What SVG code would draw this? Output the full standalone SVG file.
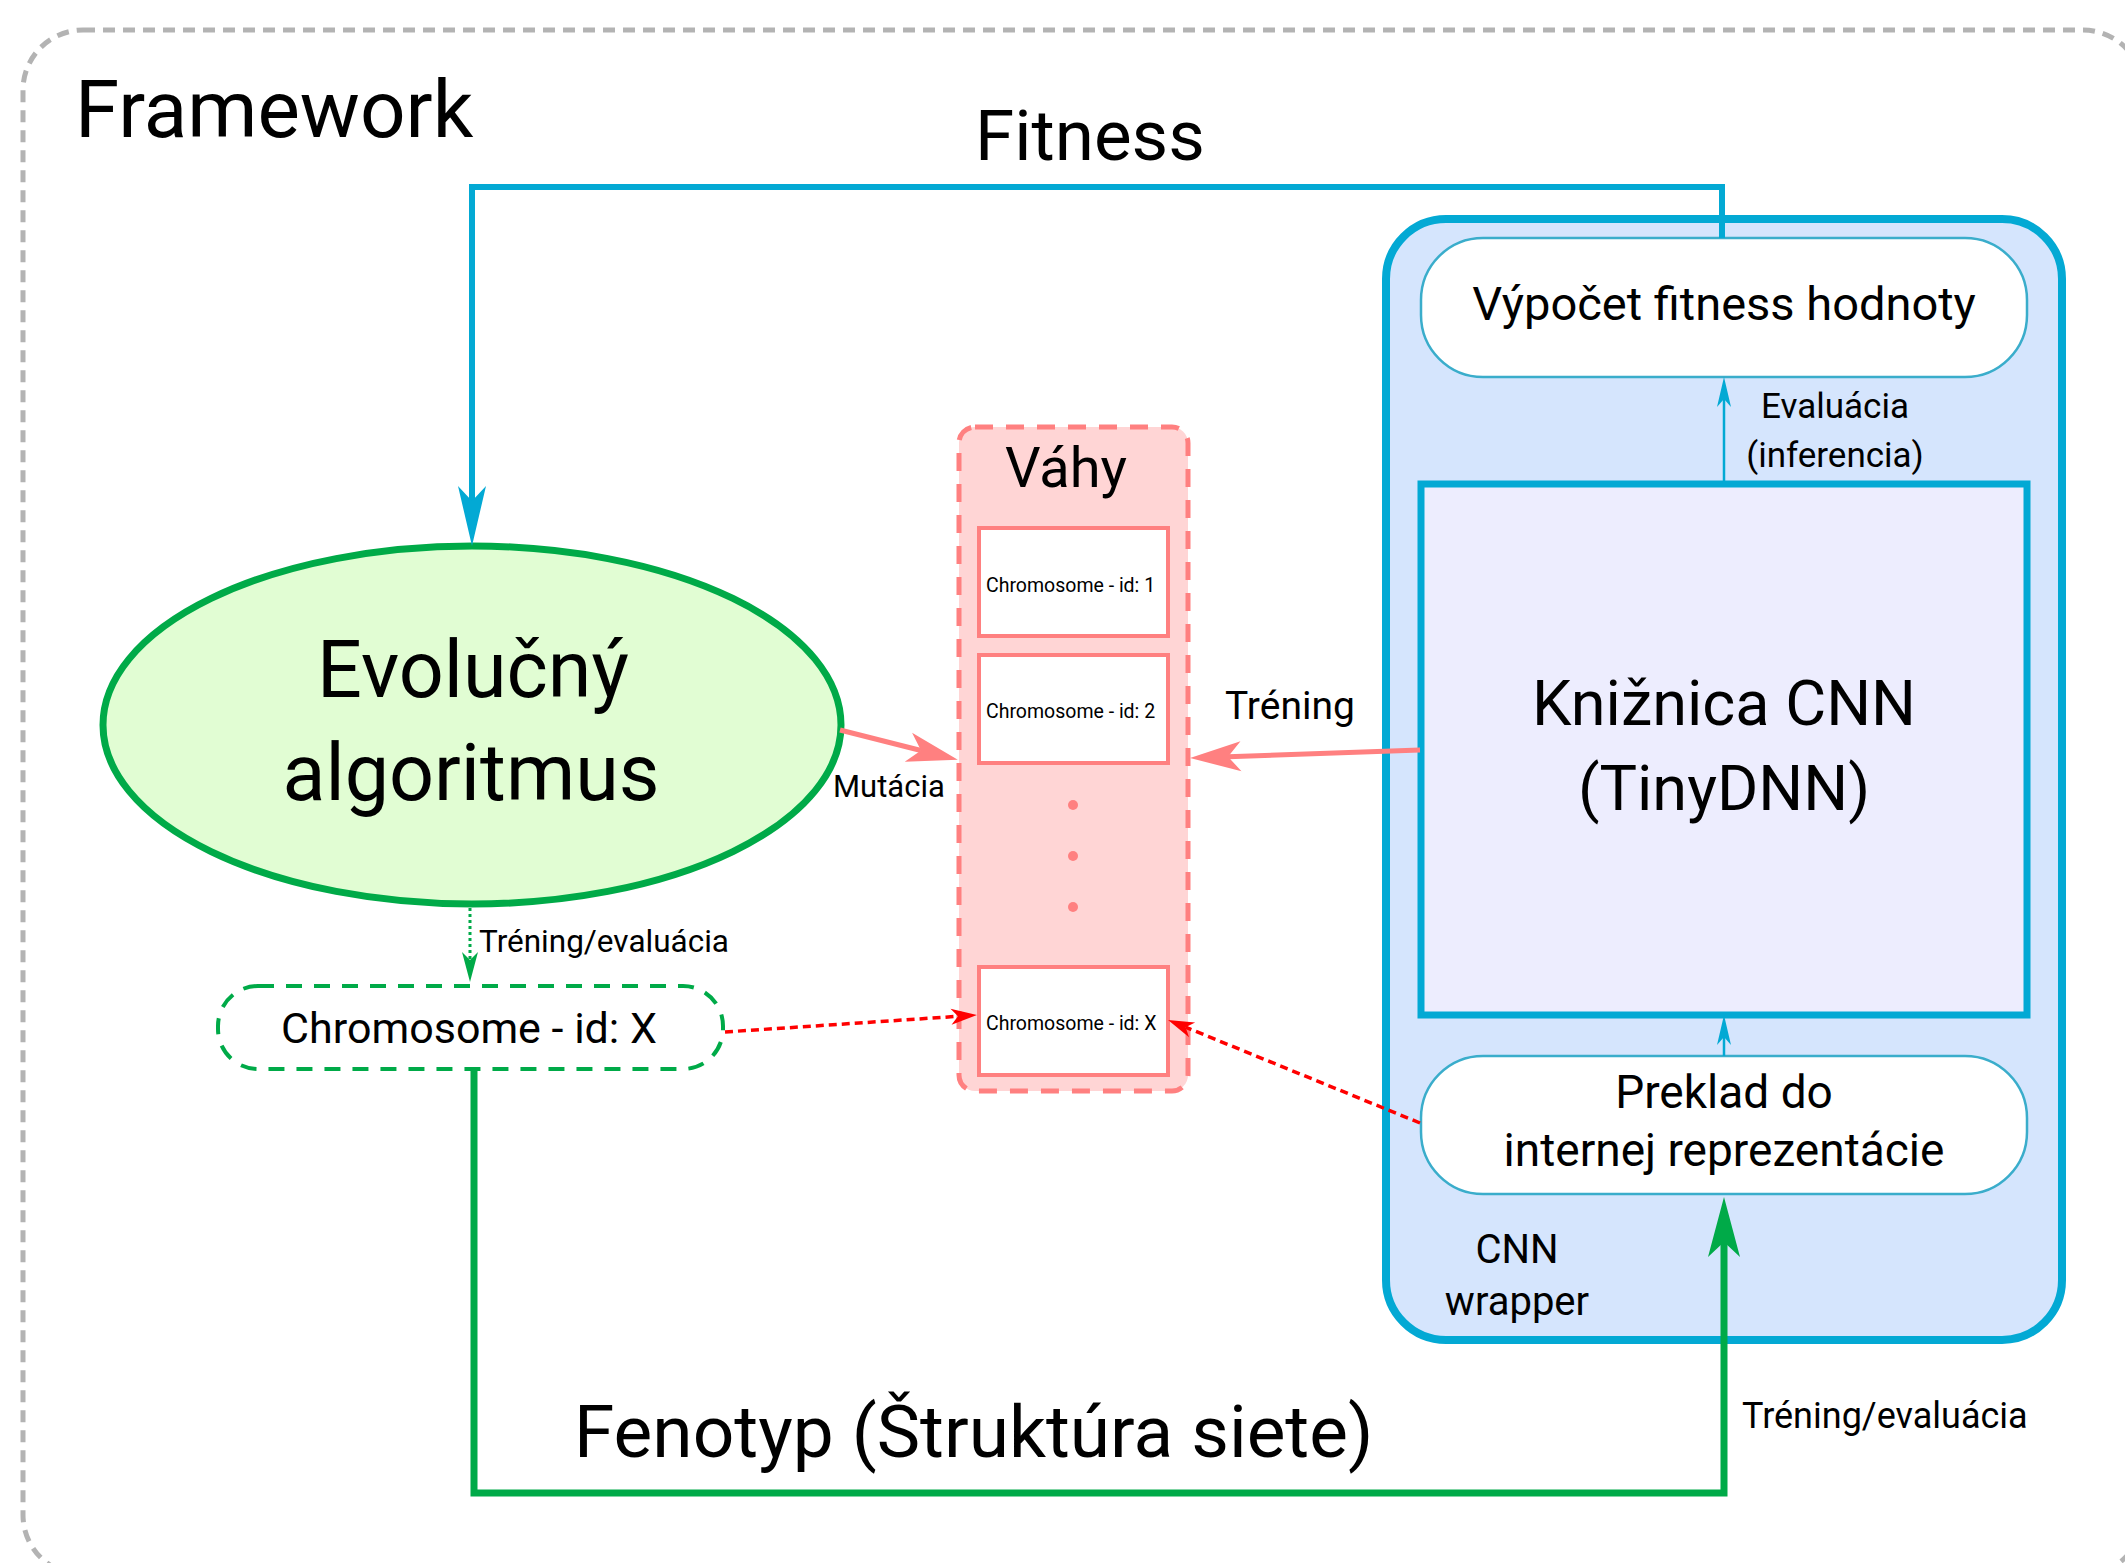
<svg xmlns="http://www.w3.org/2000/svg" width="2125" height="1563" viewBox="0 0 2125 1563">
  <style>
    text { font-family: Roboto, "Liberation Sans", sans-serif; fill: #000; }
    .mid { text-anchor: middle; }
    .blue { fill: none; stroke: #03a9d4; }
    .green { fill: none; stroke: #00aa48; }
    .pink { fill: none; stroke: #ff8080; stroke-width: 5; }
    .reddot { fill: none; stroke: #ff0000; stroke-width: 3.5; stroke-dasharray: 8 5; }
    .pill { fill: #ffffff; stroke: #3aadcb; stroke-width: 2.5; }
    .chrom { fill: #ffffff; stroke: #ff8080; stroke-width: 4; }
  </style>
  <defs>
    <marker id="arrBlueBig" markerUnits="userSpaceOnUse" orient="auto" overflow="visible" markerWidth="1" markerHeight="1">
      <path d="M45,0 L-15,-14 L0,0 L-15,14 Z" fill="#03a9d4"/>
    </marker>
    <marker id="arrGreenBig" markerUnits="userSpaceOnUse" orient="auto" overflow="visible" markerWidth="1" markerHeight="1">
      <path d="M45,0 L-15,-16 L0,0 L-15,16 Z" fill="#00aa48"/>
    </marker>
    <marker id="arrPink" markerUnits="userSpaceOnUse" orient="auto" overflow="visible" markerWidth="1" markerHeight="1">
      <path d="M38,0 L-13,-15 L0,0 L-13,15 Z" fill="#ff8080"/>
    </marker>
    <marker id="arrBlueSmall" markerUnits="userSpaceOnUse" orient="auto" overflow="visible" markerWidth="1" markerHeight="1">
      <path d="M22,0 L-8,-7 L0,0 L-8,7 Z" fill="#03a9d4"/>
    </marker>
    <marker id="arrGreenSmall" markerUnits="userSpaceOnUse" orient="auto" overflow="visible" markerWidth="1" markerHeight="1">
      <path d="M22,0 L-8,-8 L0,0 L-8,8 Z" fill="#00aa48"/>
    </marker>
    <marker id="arrRed" markerUnits="userSpaceOnUse" orient="auto" overflow="visible" markerWidth="1" markerHeight="1">
      <path d="M19,0 L-7,-8 L0,0 L-7,8 Z" fill="#ff0000"/>
    </marker>
  </defs>

  <!-- outer framework boundary -->
  <g id="framework">
    <rect x="23" y="30" width="2120" height="1545" rx="60" ry="60" fill="#ffffff" stroke="#b3b3b3" stroke-width="5" stroke-dasharray="12 8"/>
    <text x="75" y="137" font-size="80">Framework</text>
  </g>

  <!-- CNN wrapper container -->
  <g id="cnn-wrapper">
    <rect x="1386" y="219" width="676" height="1121" rx="60" ry="60" fill="#d5e5fd" stroke="#03a9d4" stroke-width="8"/>
    <text class="mid" x="1517" y="1263" font-size="40">CNN</text>
    <text class="mid" x="1517" y="1315" font-size="40">wrapper</text>
  </g>

  <g id="fitness-calc">
    <rect class="pill" x="1421" y="238" width="606" height="139" rx="62" ry="62"/>
    <text class="mid" x="1724" y="320" font-size="47">Výpočet fitness hodnoty</text>
  </g>

  <g id="cnn-library">
    <rect x="1421" y="484" width="606" height="531" fill="#ededfe" stroke="#03a9d4" stroke-width="7"/>
    <text class="mid" x="1724" y="725" font-size="63">Knižnica CNN</text>
    <text class="mid" x="1724" y="810" font-size="63">(TinyDNN)</text>
  </g>

  <g id="translation">
    <rect class="pill" x="1421" y="1056" width="606" height="138" rx="62" ry="62"/>
    <text class="mid" x="1724" y="1108" font-size="46">Preklad do</text>
    <text class="mid" x="1724" y="1166" font-size="46">internej reprezentácie</text>
  </g>

  <g id="evolutionary-algorithm">
    <ellipse cx="472" cy="725" rx="369" ry="179" fill="#e1fdd3" stroke="#00aa48" stroke-width="7"/>
    <text class="mid" x="473" y="697" font-size="79">Evolučný</text>
    <text class="mid" x="471" y="800" font-size="79">algoritmus</text>
  </g>

  <g id="chromosome-x">
    <rect x="218" y="986" width="505" height="83" rx="40" ry="40" fill="#ffffff" stroke="#00aa48" stroke-width="4" stroke-dasharray="16 12"/>
    <text class="mid" x="469" y="1043" font-size="43">Chromosome - id: X</text>
  </g>

  <!-- weights store -->
  <g id="weights">
    <rect x="959" y="427" width="229" height="664" rx="16" ry="16" fill="#ffd5d5" stroke="#ff8080" stroke-width="5" stroke-dasharray="18 13"/>
    <text class="mid" x="1066" y="487" font-size="56">Váhy</text>
    <rect class="chrom" x="979" y="528" width="189" height="108"/>
    <text x="986" y="592" font-size="19.5">Chromosome - id: 1</text>
    <rect class="chrom" x="979" y="655" width="189" height="108"/>
    <text x="986" y="718" font-size="19.5">Chromosome - id: 2</text>
    <circle cx="1073" cy="805" r="5" fill="#ff8080"/>
    <circle cx="1073" cy="856" r="5" fill="#ff8080"/>
    <circle cx="1073" cy="907" r="5" fill="#ff8080"/>
    <rect class="chrom" x="979" y="967" width="189" height="108"/>
    <text x="986" y="1030" font-size="19.5">Chromosome - id: X</text>
  </g>

  <!-- connectors -->
  <g id="connectors">
    <path class="blue" stroke-width="6" d="M1722,238 V187 H472 V501" marker-end="url(#arrBlueBig)"/>
    <text x="975" y="160" font-size="71">Fitness</text>

    <path class="green" stroke-width="7" d="M474,1069 V1493 H1724 V1242" marker-end="url(#arrGreenBig)"/>
    <text x="574" y="1457" font-size="73">Fenotyp (Štruktúra siete)</text>
    <text x="1742" y="1428" font-size="36">Tréning/evaluácia</text>

    <path class="blue" stroke-width="2.5" d="M1724,484 V399" marker-end="url(#arrBlueSmall)"/>
    <text class="mid" x="1835" y="418" font-size="35">Evaluácia</text>
    <text class="mid" x="1835" y="467" font-size="35">(inferencia)</text>

    <path class="blue" stroke-width="2.5" d="M1724,1056 V1037" marker-end="url(#arrBlueSmall)"/>

    <path class="pink" d="M840,730 L921,750.5" marker-end="url(#arrPink)"/>
    <text x="833" y="797" font-size="31">Mutácia</text>

    <path class="pink" d="M1420,750 L1228,756.7" marker-end="url(#arrPink)"/>
    <text x="1225" y="719" font-size="39">Tréning</text>

    <path class="green" stroke-width="3" stroke-dasharray="3 3" d="M470,908 V960" marker-end="url(#arrGreenSmall)"/>
    <text x="479" y="952" font-size="31.5">Tréning/evaluácia</text>

    <path class="reddot" d="M725,1032 L958,1016.3" marker-end="url(#arrRed)"/>
    <path class="reddot" d="M1420,1123 L1185.6,1027.2" marker-end="url(#arrRed)"/>
  </g>
</svg>
